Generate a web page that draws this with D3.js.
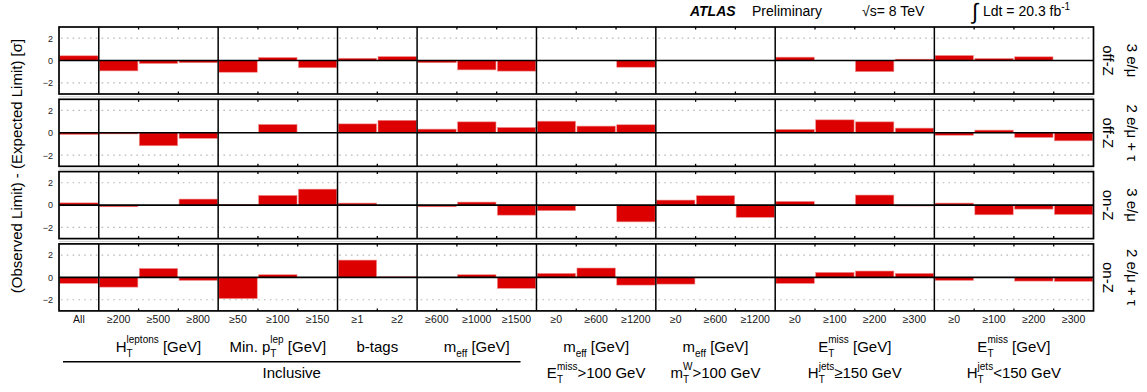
<!DOCTYPE html>
<html><head><meta charset="utf-8">
<script src="https://cdn.jsdelivr.net/npm/d3@7"></script>
<style>
body{margin:0;background:#fff;}
svg{display:block;font-family:"Liberation Sans",Arial,Helvetica,sans-serif;}
</style></head><body>
<svg id="c" width="1147" height="392"></svg>
<script>
// ---------------- data ----------------
const binLabels = ["All","≥200","≥500","≥800","≥50","≥100","≥150","≥1","≥2",
  "≥600","≥1000","≥1500","≥0","≥600","≥1200","≥0","≥600","≥1200",
  "≥0","≥100","≥200","≥300","≥0","≥100","≥200","≥300"];
const groupSizes = [1,3,3,2,3,3,3,4,4];
const groupTitles = ["", "H_{T}^{leptons} [GeV]", "Min. p_{T}^{lep} [GeV]", "b-tags",
  "m_{eff} [GeV]", "m_{eff} [GeV]", "m_{eff} [GeV]", "E_{T}^{miss} [GeV]", "E_{T}^{miss} [GeV]"];
const groupCuts = ["", "", "", "", "", "E_{T}^{miss}>100 GeV", "m_{T}^{W}>100 GeV",
  "H_{T}^{jets}≥150 GeV", "H_{T}^{jets}<150 GeV"];
const inclusiveLabel = "Inclusive";
const rowTopLabels = ["3 e/μ", "2 e/μ + τ", "3 e/μ", "2 e/μ + τ"];
const rowZLabels = ["off-Z", "off-Z", "on-Z", "on-Z"];
const yTicks = [-2, 0, 2];
const yTitle = "(Observed Limit) - (Expected Limit) [σ]";

const offZ3L   = [0.42, -0.93,-0.27,-0.2, -1.05,0.27,-0.65, 0.2,0.35, -0.2,-0.84,-0.95,
  0,0,-0.6, 0,0,0, 0.3,0,-1.0,0.12, 0.45,0.18,0.33,0];
const offZ2L1T = [-0.15, -0.1,-1.16,-0.5, 0,0.75,0, 0.8,1.12, 0.33,0.98,0.48,
  1.04,0.6,0.72, 0,0,0, 0.3,1.16,0.98,0.42, -0.22,0.24,-0.42,-0.72];
const onZ3L    = [0.2, -0.15,0,0.54, 0.05,0.87,1.43, 0.18,0, -0.15,0.27,-0.9,
  -0.5,0,-1.5, 0.45,0.84,-1.1, 0.33,0,0.9,-0.08, 0.18,-0.87,-0.36,-0.84];
const onZ2L1T  = [-0.54, -0.87,0.8,-0.27, -1.9,0.24,0, 1.55,0.05, 0,0.24,-0.98,
  0.36,0.84,-0.69, -0.6,0,0, -0.54,0.45,0.57,0.36, -0.27,0,-0.33,-0.36];
const rowValues = [offZ3L, offZ2L1T, onZ3L, onZ2L1T];

// ---------------- layout ----------------
const svg = d3.select("#c");
const left = 59, right = 1093.5, top0 = 27, rowH = 67, rowPitch = 72.3;
const nBins = binLabels.length;
const x = d3.scaleLinear().domain([0, nBins]).range([left, right]);
const band = d3.scaleBand().domain(d3.range(nBins)).range([left, right]).paddingInner(0);

const bounds = [0];
groupSizes.forEach(s => bounds.push(bounds[bounds.length-1] + s));
const majorB = bounds.slice(1, -1);
const minorB = d3.range(1, nBins).filter(b => !majorB.includes(b));

// rich text: H_{T}^{x}
function rich(g, str, cx, cy, size, small, supDy, subDy) {
  const re = /(_\{([^}]*)\}\^\{([^}]*)\})|(_\{([^}]*)\})|(\^\{([^}]*)\})|([^_^]+)/g;
  const grp = g.append("g");
  let pos = 0, m;
  while ((m = re.exec(str)) !== null) {
    if (m[1]) {
      const a = grp.append("text").attr("x", pos).attr("y", subDy).attr("font-size", small).text(m[2]);
      const b = grp.append("text").attr("x", pos).attr("y", supDy).attr("font-size", small).text(m[3]);
      pos += Math.max(a.node().getComputedTextLength(), b.node().getComputedTextLength());
    } else if (m[4]) {
      const a = grp.append("text").attr("x", pos).attr("y", subDy).attr("font-size", small).text(m[5]);
      pos += a.node().getComputedTextLength();
    } else if (m[6]) {
      const a = grp.append("text").attr("x", pos).attr("y", supDy).attr("font-size", small).text(m[7]);
      pos += a.node().getComputedTextLength();
    } else {
      const a = grp.append("text").attr("x", pos).attr("y", 0).attr("font-size", size)
        .attr("xml:space", "preserve").style("white-space", "pre").text(m[8]);
      pos += a.node().getComputedTextLength();
    }
  }
  grp.attr("transform", `translate(${cx - pos/2},${cy})`).attr("fill", "#000");
  return grp;
}

// ---------------- rows ----------------
rowValues.forEach((vals, r) => {
  const t = top0 + r * rowPitch, b = t + rowH;
  const y = d3.scaleLinear().domain([-3, 3]).range([b, t]);
  const g = svg.append("g");

  // separator shadow line between pads
  if (r < rowValues.length - 1) {
    g.append("line").attr("x1", left).attr("x2", right)
      .attr("y1", b + 2.8).attr("y2", b + 2.8)
      .attr("stroke", "#cfcfcf").attr("stroke-width", 1);
  }

  // dotted grid
  g.selectAll(".grid").data([-2, 2]).join("line")
    .attr("x1", left + 2).attr("x2", right)
    .attr("y1", d => y(d)).attr("y2", d => y(d))
    .attr("stroke", "#b8b8b8").attr("stroke-width", 1.2)
    .attr("stroke-dasharray", "1.6,4.2");

  // bars
  g.selectAll(".bar").data(vals.map((v, i) => ({v, i})).filter(d => d.v !== 0)).join("rect")
    .attr("x", d => x(d.i) + 0.7)
    .attr("width", d => x(d.i + 1) - x(d.i) - 1.4)
    .attr("y", d => Math.min(y(d.v), y(0)))
    .attr("height", d => Math.abs(y(d.v) - y(0)))
    .attr("fill", "#dd0000")
    .attr("stroke", "#f09090").attr("stroke-width", 0.6);

  // zero line
  g.append("line").attr("x1", left).attr("x2", right)
    .attr("y1", y(0)).attr("y2", y(0))
    .attr("stroke", "#000").attr("stroke-width", 1.6);

  // major separators
  g.selectAll(".sep").data(majorB).join("line")
    .attr("x1", d => x(d)).attr("x2", d => x(d))
    .attr("y1", t).attr("y2", b)
    .attr("stroke", "#000").attr("stroke-width", 1.5);

  // minor ticks
  g.selectAll(".tkt").data(minorB).join("line")
    .attr("x1", d => x(d)).attr("x2", d => x(d))
    .attr("y1", t).attr("y2", t + 2.5)
    .attr("stroke", "#000").attr("stroke-width", 1.3);
  g.selectAll(".tkb").data(minorB).join("line")
    .attr("x1", d => x(d)).attr("x2", d => x(d))
    .attr("y1", b - 2.5).attr("y2", b)
    .attr("stroke", "#000").attr("stroke-width", 1.3);

  // frame
  g.append("rect").attr("x", left).attr("y", t).attr("width", right - left).attr("height", rowH)
    .attr("fill", "none").attr("stroke", "#000").attr("stroke-width", 1.7);

  // y axis labels
  const ya = svg.append("g").attr("transform", `translate(${left},0)`)
    .call(d3.axisLeft(y).tickValues(yTicks).tickSize(0).tickPadding(6).tickFormat(d3.format("d")));
  ya.select(".domain").remove();
  ya.selectAll("text").attr("font-size", 9).attr("fill", "#222")
    .attr("font-family", "'Liberation Sans',Arial,sans-serif");

  // right labels
  const cy = (t + b) / 2;
  svg.append("text").attr("transform", `translate(1132,${cy}) rotate(90)`)
    .attr("text-anchor", "middle").attr("dominant-baseline", "central")
    .attr("font-size", 15).text(rowTopLabels[r]);
  svg.append("text").attr("transform", `translate(1108,${cy}) rotate(90)`)
    .attr("text-anchor", "middle").attr("dominant-baseline", "central")
    .attr("font-size", 15).text(rowZLabels[r]);
});

// ---------------- x bin labels ----------------
const bottomY = top0 + 3 * rowPitch + rowH;
const xa = svg.append("g").attr("transform", `translate(0,${bottomY})`)
  .call(d3.axisBottom(band).tickSize(0).tickPadding(5).tickFormat(i => binLabels[i]));
xa.select(".domain").remove();
xa.selectAll("text").attr("font-size", 10.5).attr("fill", "#111")
  .attr("font-family", "'Liberation Sans',Arial,sans-serif");

// ---------------- group labels ----------------
groupTitles.forEach((s, k) => {
  if (!s) return;
  const cx = x((bounds[k] + bounds[k+1]) / 2);
  rich(svg, s, cx, 352, 15, 10, -9, 4.5);
});
groupCuts.forEach((s, k) => {
  if (!s) return;
  const cx = x((bounds[k] + bounds[k+1]) / 2);
  rich(svg, s, cx, 378, 15, 10, -8.5, 4.5);
});
const ulx1 = x(0.1), ulx2 = x(11.6);
svg.append("line").attr("x1", ulx1).attr("x2", ulx2).attr("y1", 361.7).attr("y2", 361.7)
  .attr("stroke", "#000").attr("stroke-width", 1.5);
svg.append("text").attr("x", (ulx1 + ulx2) / 2).attr("y", 378).attr("text-anchor", "middle")
  .attr("font-size", 15).text(inclusiveLabel);

// ---------------- y title ----------------
svg.append("text").attr("transform", "translate(16,166) rotate(-90)")
  .attr("text-anchor", "middle").attr("dominant-baseline", "central")
  .attr("font-size", 15).text(yTitle);

// ---------------- header ----------------
svg.append("text").attr("x", 690).attr("y", 16).attr("font-size", 14)
  .attr("font-weight", "bold").attr("font-style", "italic").text("ATLAS");
svg.append("text").attr("x", 752).attr("y", 16).attr("font-size", 14).text("Preliminary");
svg.append("text").attr("x", 862).attr("y", 16).attr("font-size", 14).text("√s= 8 TeV");
svg.append("text").attr("x", 972).attr("y", 19).attr("font-size", 22).text("∫");
const lum = svg.append("text").attr("x", 983).attr("y", 16).attr("font-size", 14);
lum.append("tspan").text("Ldt = 20.3 fb");
lum.append("tspan").attr("dy", -6).attr("font-size", 10).text("-1");
</script>
</body></html>
